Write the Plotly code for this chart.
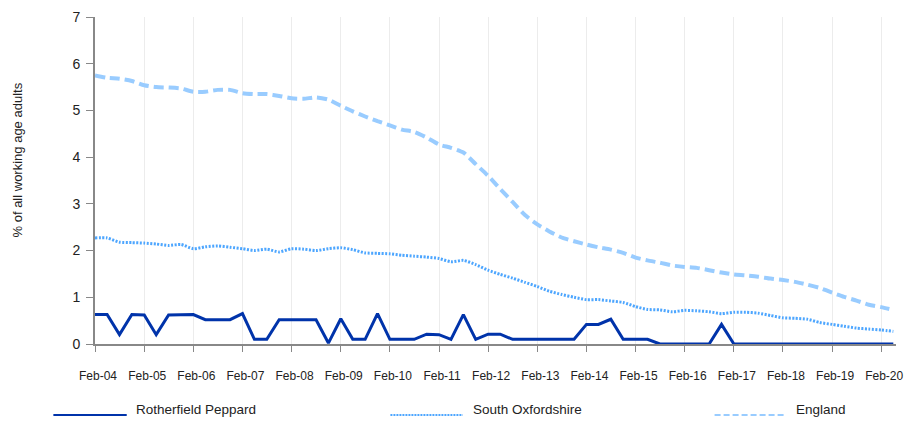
import pandas as pd
import plotly.graph_objects as go

# ---------------- data ----------------
quarters = pd.date_range("2004-02-01", periods=66, freq="3MS")

rotherfield_peppard = [
    0.63, 0.63, 0.20, 0.63, 0.62, 0.20, 0.62, 0.62,
    0.63, 0.52, 0.52, 0.52, 0.65, 0.10, 0.10, 0.52,
    0.52, 0.52, 0.52, 0.02, 0.54, 0.10, 0.10, 0.65,
    0.10, 0.10, 0.10, 0.21, 0.20, 0.10, 0.63, 0.10,
    0.21, 0.21, 0.10, 0.10, 0.10, 0.10, 0.10, 0.10,
    0.42, 0.42, 0.53, 0.10, 0.10, 0.10, 0.00, 0.00,
    0.00, 0.00, 0.00, 0.42, 0.00, 0.00, 0.00, 0.00,
    0.00, 0.00, 0.00, 0.00, 0.00, 0.00, 0.00, 0.00,
    0.00, 0.00,
]

south_oxfordshire = [
    2.27, 2.27, 2.18, 2.17, 2.16, 2.14, 2.11, 2.13,
    2.04, 2.08, 2.10, 2.07, 2.04, 2.00, 2.03, 1.97,
    2.04, 2.03, 2.00, 2.04, 2.06, 2.02, 1.95, 1.94,
    1.93, 1.90, 1.88, 1.86, 1.83, 1.76, 1.79, 1.70,
    1.58, 1.49, 1.41, 1.32, 1.23, 1.13, 1.06, 1.00,
    0.95, 0.95, 0.92, 0.89, 0.80, 0.74, 0.73, 0.69,
    0.72, 0.71, 0.69, 0.65, 0.68, 0.68, 0.66, 0.61,
    0.56, 0.55, 0.53, 0.46, 0.42, 0.38, 0.34, 0.32,
    0.30, 0.27,
]

england = [
    5.75, 5.70, 5.68, 5.63, 5.54, 5.50, 5.49, 5.47,
    5.40, 5.40, 5.44, 5.44, 5.37, 5.35, 5.35, 5.31,
    5.26, 5.25, 5.28, 5.23, 5.10, 4.98, 4.87, 4.77,
    4.68, 4.59, 4.54, 4.42, 4.27, 4.20, 4.10, 3.85,
    3.60, 3.32, 3.04, 2.76, 2.56, 2.41, 2.28, 2.20,
    2.13, 2.07, 2.02, 1.95, 1.85, 1.79, 1.74, 1.68,
    1.65, 1.63, 1.58, 1.53, 1.49, 1.47, 1.44, 1.40,
    1.37, 1.33, 1.27, 1.20, 1.10, 1.01, 0.93, 0.84,
    0.79, 0.73,
]

tick_dates = [f"{y}-02-01" for y in range(2004, 2021)]
tick_labels = ["Feb-04", "Feb-05", "Feb-06", "Feb-07", "Feb-08", "Feb-09",
               "Feb-10", "Feb-11", "Feb-12", "Feb-13", "Feb-14", "Feb-15",
               "Feb-16", "Feb-17", "Feb-18", "Feb-19", "Feb-20"]

series_names = ["Rotherfield Peppard", "South Oxfordshire", "England"]
y_title = "% of all working age adults"

# ---------------- styling ----------------
FONT = "Liberation Sans, Arial, sans-serif"
C_RP = "#0033aa"
C_SO = "#4da6ff"
C_EN = "#99ccff"
W, H = 912, 422
L, R, T, B = 95, 9, 12, 78
PW, PH = W - L - R, H - T - B


def px_x(px):
    return (px - L) / PW


def px_y(py):
    return (H - B - py) / PH


fig = go.Figure()
fig.add_trace(go.Scatter(x=quarters, y=england, mode="lines", name=series_names[2],
                         line=dict(color=C_EN, width=4, dash="10px,5px", shape="spline", smoothing=0.6),
                         showlegend=False))
fig.add_trace(go.Scatter(x=quarters, y=south_oxfordshire, mode="lines", name=series_names[1],
                         line=dict(color=C_SO, width=3, dash="2px,1.5px", shape="spline", smoothing=0.6),
                         showlegend=False))
fig.add_trace(go.Scatter(x=quarters, y=rotherfield_peppard, mode="lines", name=series_names[0],
                         line=dict(color=C_RP, width=3), showlegend=False))

# manual legend
legend_items = [
    (series_names[0], C_RP, "solid", 53, 127, 134),
    (series_names[1], C_SO, "2px,1px", 393, 466, 474),
    (series_names[2], C_EN, "6px,3px", 720, 790, 800),
]
shapes = []
annotations = []
for name, col, dash, x0, x1, tx in legend_items:
    shapes.append(dict(type="line", xref="paper", yref="paper",
                       x0=px_x(x0), x1=px_x(x1), y0=px_y(416), y1=px_y(416),
                       line=dict(color=col, width=2, dash=dash)))
    annotations.append(dict(xref="paper", yref="paper", x=px_x(tx), y=px_y(410),
                            xanchor="left", yanchor="middle", showarrow=False,
                            text=name, font=dict(family=FONT, size=13.5, color="#222")))

annotations.append(dict(xref="paper", yref="paper", x=px_x(17), y=px_y(157),
                        xanchor="center", yanchor="middle", showarrow=False,
                        textangle=-90, text=y_title,
                        font=dict(family=FONT, size=13, color="#222")))

fig.update_layout(
    width=W, height=H,
    margin=dict(l=L, r=R, t=T, b=B, pad=0),
    paper_bgcolor="white", plot_bgcolor="white",
    font=dict(family=FONT, color="#222"),
    shapes=shapes, annotations=annotations,
    showlegend=False,
)
fig.update_xaxes(
    type="date",
    range=["2004-02-01", "2020-05-21"],
    tickvals=tick_dates, ticktext=tick_labels,
    ticks="outside", ticklen=6, tickwidth=1, tickcolor="#888",
    showline=True, linecolor="#888", linewidth=2,
    showgrid=True, gridcolor="#ececec", gridwidth=1,
    zeroline=False,
    tickfont=dict(family=FONT, size=12, color="#222"),
    ticklabelstandoff=14,
    ticklabelshift=3,
)
fig.update_yaxes(
    range=[0, 7], tickvals=[0, 1, 2, 3, 4, 5, 6, 7],
    ticks="outside", ticklen=7, tickwidth=1, tickcolor="#888",
    showline=True, linecolor="#888", linewidth=2,
    showgrid=False, zeroline=False,
    tickfont=dict(family=FONT, size=14, color="#222"),
    ticklabelstandoff=3,
)

fig.write_html(
    "out.html",
    config={"displayModeBar": False},
    post_script="document.body.style.margin='0';document.body.style.overflow='hidden';",
)
